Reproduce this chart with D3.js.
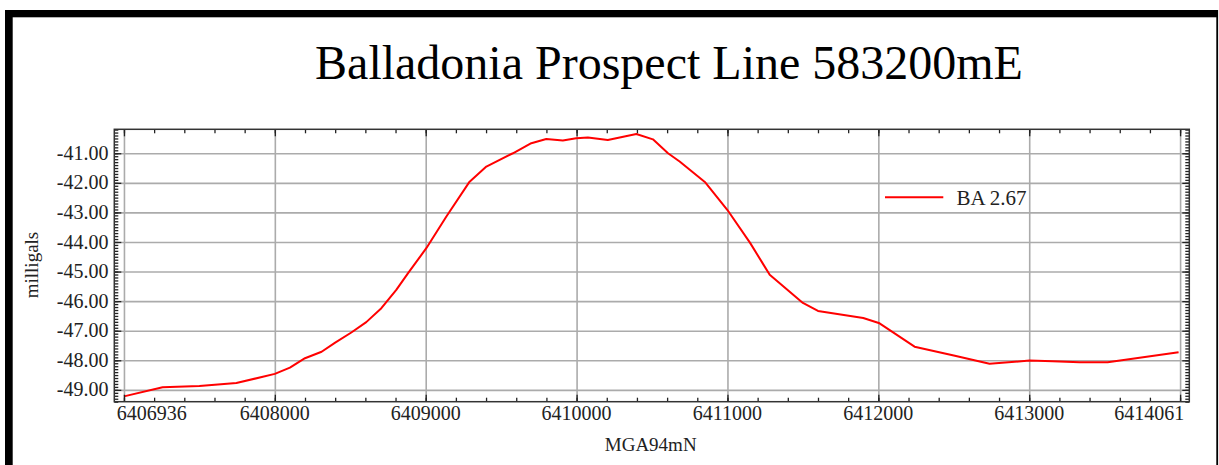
<!DOCTYPE html>
<html>
<head>
<meta charset="utf-8">
<script src="https://cdn.jsdelivr.net/npm/d3@7"></script>
<style>
  body { margin: 0; background: #fff; }
  svg { display: block; font-family: "Liberation Serif", "Times New Roman", serif; }
</style>
</head>
<body>
<div id="chart"></div>
<script>
// survey data: northing (m) and Bouguer anomaly (mGal)
let northing = [6407000, 6407256, 6407500, 6407745, 6408000, 6408100, 6408200, 6408310, 6408400, 6408507,
    6408606, 6408706, 6408805, 6408882, 6409004, 6409137, 6409291, 6409402, 6409578, 6409700,
    6409799, 6409909, 6409998, 6410075, 6410207, 6410396, 6410506, 6410606, 6410683, 6410850,
    6411000, 6411150, 6411280, 6411500, 6411600, 6411900, 6412008, 6412240, 6412500, 6412737,
    6413002, 6413155, 6413334, 6413520, 6413990];
let gravity = [-49.22, -48.91, -48.87, -48.77, -48.46, -48.25, -47.93, -47.71, -47.40, -47.06,
    -46.71, -46.24, -45.62, -45.06, -44.21, -43.14, -41.96, -41.45, -41.00, -40.66,
    -40.52, -40.57, -40.49, -40.47, -40.55, -40.35, -40.53, -41.00, -41.28, -41.97,
    -42.92, -44.03, -45.11, -46.06, -46.33, -46.57, -46.75, -47.54, -47.84, -48.12,
    -48.01, -48.03, -48.07, -48.07, -47.73];

let xTickValues = [6407000, 6408000, 6409000, 6410000, 6411000, 6412000, 6413000, 6414000];
let xTickLabels = ["6406936", "6408000", "6409000", "6410000", "6411000", "6412000", "6413000", "6414061"];
let yTickValues = [-49, -48, -47, -46, -45, -44, -43, -42, -41];
let seriesName = "BA 2.67";

let width = 1219;
let height = 465;
let plot = {left: 114.3, right: 1189.3, top: 129.3, bottom: 401.7};

let svg = d3.select("#chart")
    .append("svg")
    .attr("width", width)
    .attr("height", height);

svg.append("rect").attr("width", width).attr("height", height).attr("fill", "#fff");

// black page frame (top bar, left bar, thin right edge)
svg.append("rect").attr("x", 5).attr("y", 10).attr("width", 1213).attr("height", 7.3).attr("fill", "#000");
svg.append("rect").attr("x", 5).attr("y", 10).attr("width", 7.7).attr("height", height - 10).attr("fill", "#000");
svg.append("rect").attr("x", 1216.3).attr("y", 10).attr("width", 1.8).attr("height", height - 10).attr("fill", "#000");

let x = d3.scaleLinear()
    .domain([6406936, 6414061])
    .range([plot.left, plot.right]);

let y = d3.scaleLinear()
    .domain([-49.4, -40.19])
    .range([plot.bottom, plot.top]);

// title
svg.append("text")
    .attr("x", 669)
    .attr("y", 79)
    .attr("text-anchor", "middle")
    .style("font-size", "48px")
    .attr("fill", "#000")
    .text("Balladonia Prospect Line 583200mE");

// grid lines
svg.append("g")
    .attr("transform", "translate(0," + plot.bottom + ")")
    .call(d3.axisBottom(x).tickValues(xTickValues).tickSize(-(plot.bottom - plot.top)).tickFormat(""))
    .call(g => g.select(".domain").remove())
    .selectAll("line").attr("stroke", "#ababab").attr("stroke-width", 1.6);

svg.append("g")
    .attr("transform", "translate(" + plot.left + ",0)")
    .call(d3.axisLeft(y).tickValues(yTickValues).tickSize(-(plot.right - plot.left)).tickFormat(""))
    .call(g => g.select(".domain").remove())
    .selectAll("line").attr("stroke", "#ababab").attr("stroke-width", 1.6);

// data line
let data = northing.map((n, i) => ({n: n, g: gravity[i]}));
let line = d3.line()
    .x(d => x(d.n))
    .y(d => y(d.g));

svg.append("path")
    .datum(data)
    .attr("d", line)
    .attr("fill", "none")
    .attr("stroke", "#ff0000")
    .attr("stroke-width", 2)
    .attr("stroke-linejoin", "round");

// inward ticks on all four sides
let xMinor = d3.range(6407000, 6414001, 200);
let yMinor = d3.range(-494, -401, 1).map(v => v / 10);
let tickColor = "#222";

function styleTicks(g) {
    g.select(".domain").remove();
    g.selectAll("line").attr("stroke", tickColor).attr("stroke-width", 1.3);
}

svg.append("g").attr("transform", "translate(0," + plot.top + ")")
    .call(d3.axisTop(x).tickValues(xMinor).tickSize(-4).tickFormat("")).call(styleTicks);
svg.append("g").attr("transform", "translate(0," + plot.top + ")")
    .call(d3.axisTop(x).tickValues(xTickValues).tickSize(-7).tickFormat("")).call(styleTicks);
svg.append("g").attr("transform", "translate(0," + plot.bottom + ")")
    .call(d3.axisBottom(x).tickValues(xMinor).tickSize(-4).tickFormat("")).call(styleTicks);
svg.append("g").attr("transform", "translate(0," + plot.bottom + ")")
    .call(d3.axisBottom(x).tickValues(xTickValues).tickSize(-7).tickFormat("")).call(styleTicks);

svg.append("g").attr("transform", "translate(" + plot.left + ",0)")
    .call(d3.axisLeft(y).tickValues(yMinor).tickSize(-4).tickFormat("")).call(styleTicks);
svg.append("g").attr("transform", "translate(" + plot.left + ",0)")
    .call(d3.axisLeft(y).tickValues(yTickValues).tickSize(-7).tickFormat("")).call(styleTicks);
svg.append("g").attr("transform", "translate(" + plot.right + ",0)")
    .call(d3.axisRight(y).tickValues(yMinor).tickSize(-4).tickFormat("")).call(styleTicks);
svg.append("g").attr("transform", "translate(" + plot.right + ",0)")
    .call(d3.axisRight(y).tickValues(yTickValues).tickSize(-7).tickFormat("")).call(styleTicks);

// plot frame
svg.append("rect")
    .attr("x", plot.left)
    .attr("y", plot.top)
    .attr("width", plot.right - plot.left)
    .attr("height", plot.bottom - plot.top)
    .attr("fill", "none")
    .attr("stroke", "#333")
    .attr("stroke-width", 1.5);

// tick labels (end labels are pulled inside the frame, like the original)
let lastX = xTickValues.length - 1;
svg.append("g").selectAll("text")
    .data(xTickValues)
    .enter()
    .append("text")
    .attr("x", (d, i) => i === 0 ? plot.left + 2.5 : i === lastX ? plot.right - 5 : x(d))
    .attr("y", 420)
    .attr("text-anchor", (d, i) => i === 0 ? "start" : i === lastX ? "end" : "middle")
    .style("font-size", "20px")
    .attr("fill", "#222")
    .text((d, i) => xTickLabels[i]);

svg.append("g").selectAll("text")
    .data(yTickValues)
    .enter()
    .append("text")
    .attr("x", 108.5)
    .attr("y", d => y(d))
    .attr("dy", "0.33em")
    .attr("text-anchor", "end")
    .style("font-size", "20px")
    .attr("fill", "#222")
    .text(d => d.toFixed(2));

// axis titles
svg.append("text")
    .attr("x", 650.7)
    .attr("y", 451)
    .attr("text-anchor", "middle")
    .style("font-size", "19px")
    .attr("fill", "#222")
    .text("MGA94mN");

svg.append("text")
    .attr("transform", "translate(38,265) rotate(-90)")
    .attr("text-anchor", "middle")
    .style("font-size", "19px")
    .attr("fill", "#222")
    .text("milligals");

// legend
svg.append("line")
    .attr("x1", 885).attr("x2", 943.3)
    .attr("y1", 197.3).attr("y2", 197.3)
    .attr("stroke", "#ff0000")
    .attr("stroke-width", 2);

svg.append("text")
    .attr("x", 956.5)
    .attr("y", 205)
    .style("font-size", "21px")
    .attr("fill", "#222")
    .text(seriesName);
</script>
</body>
</html>
